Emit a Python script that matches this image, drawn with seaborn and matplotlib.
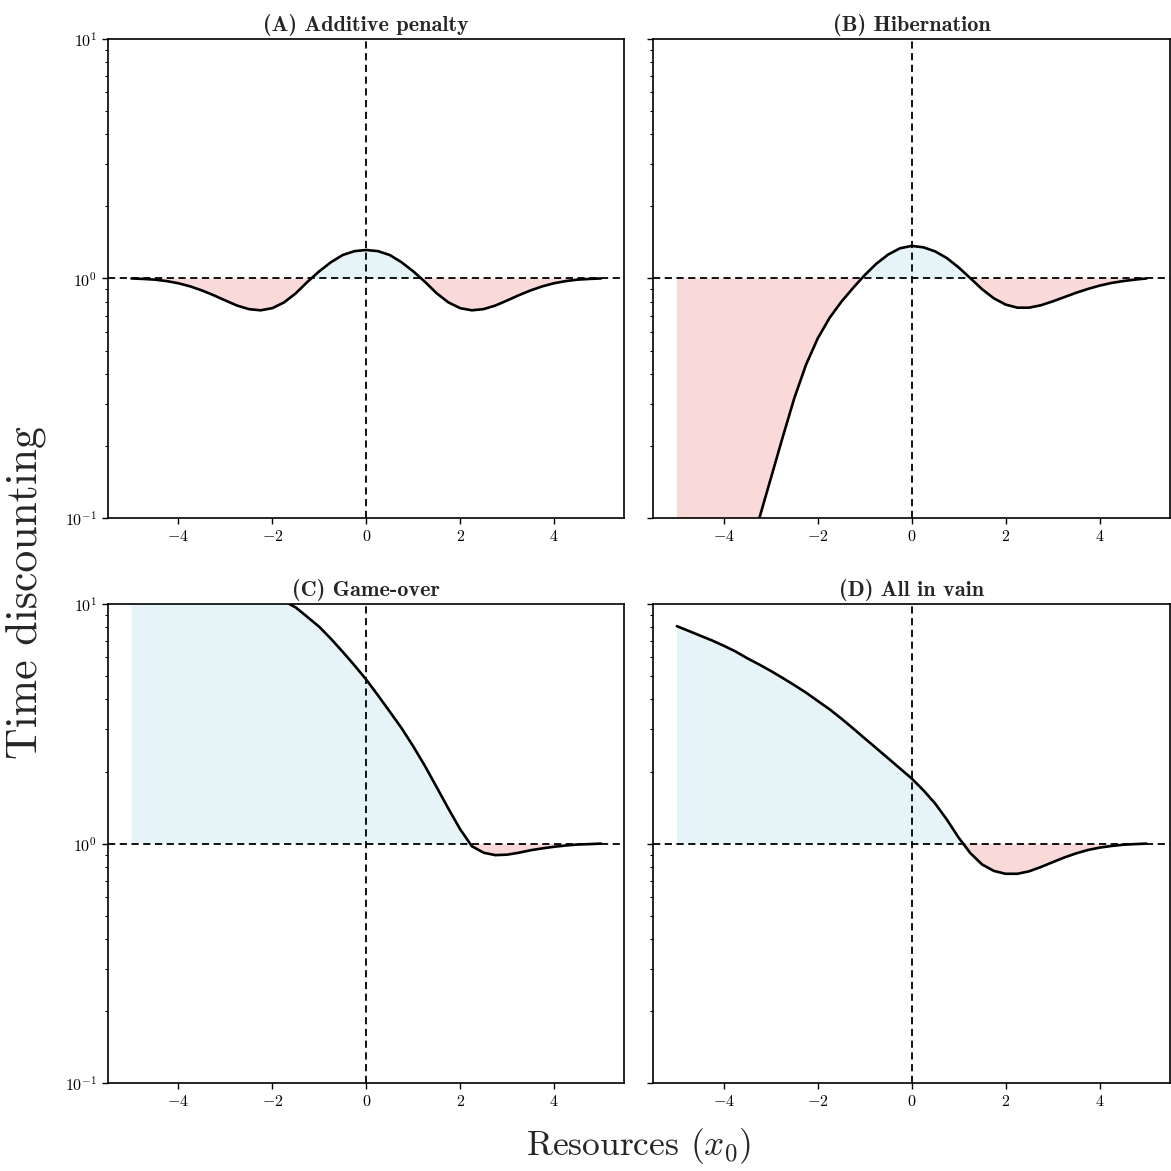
import numpy as np
import pandas as pd
import seaborn as sns
import matplotlib
matplotlib.use("Agg")
import matplotlib.pyplot as plt

# resources grid (x0) and time discounting
x0 = np.linspace(-5, 5, 41)

additive = [1.0, 0.9954, 0.9886, 0.9750, 0.9550, 0.9268, 0.8913, 0.8511, 0.8091, 0.7706,
            0.7447, 0.7362, 0.7516, 0.7943, 0.8670, 0.9683, 1.0715, 1.1695, 1.2531, 1.3002,
            1.3152,
            1.3002, 1.2531, 1.1695, 1.0715, 0.9683, 0.8670, 0.7943, 0.7516, 0.7362, 0.7447,
            0.7706, 0.8091, 0.8511, 0.8913, 0.9268, 0.9550, 0.9750, 0.9886, 0.9954, 1.0]

hibernation = [0.00355, 0.00603, 0.01023, 0.0170, 0.0275, 0.0437, 0.0661, 0.0989, 0.1462, 0.2163,
               0.3162, 0.4365, 0.5623, 0.6839, 0.7980, 0.9120, 1.0328, 1.1535, 1.2589, 1.3366,
               1.3677,
               1.3490, 1.2972, 1.2162, 1.1117, 1.0023, 0.9016, 0.8260, 0.7780, 0.7551, 0.7551,
               0.7727, 0.8017, 0.8356, 0.8710, 0.9036, 0.9333, 0.9572, 0.9750, 0.9886, 1.0]

game_over = [15.1, 15.0, 14.8, 14.6, 14.3, 14.1, 13.7, 13.4, 12.9, 12.5,
             12.0, 11.4, 10.9, 10.3, 9.68, 8.83, 8.04, 7.16, 6.32, 5.55,
             4.84,
             4.16, 3.56, 3.04, 2.55, 2.11, 1.72, 1.40, 1.148, 0.975, 0.916,
             0.895, 0.899, 0.916, 0.938, 0.955, 0.970, 0.982, 0.991, 0.995, 1.0]

all_in_vain = [8.09, 7.73, 7.38, 7.05, 6.70, 6.34, 5.94, 5.60, 5.26, 4.92,
               4.59, 4.27, 3.94, 3.64, 3.33, 3.03, 2.75, 2.50, 2.27, 2.06,
               1.87,
               1.67, 1.47, 1.259, 1.059, 0.912, 0.818, 0.769, 0.748, 0.748, 0.766,
               0.798, 0.836, 0.875, 0.910, 0.940, 0.962, 0.977, 0.989, 0.995, 1.0]

titles = ["(A) Additive penalty", "(B) Hibernation", "(C) Game-over", "(D) All in vain"]
series = [additive, hibernation, game_over, all_in_vain]

sns.set_theme(style="ticks")
plt.rcParams.update({
    "font.family": ["cmr10", "DejaVu Serif"],
    "mathtext.fontset": "cm",
    "axes.formatter.use_mathtext": True,
    "axes.linewidth": 1.2,
    "xtick.major.size": 4.5, "ytick.major.size": 4.5,
    "ytick.minor.size": 2.5,
    "xtick.major.width": 1.0, "ytick.major.width": 1.0, "ytick.minor.width": 0.8,
    "xtick.labelsize": 11.5, "ytick.labelsize": 11.5,
    "xtick.color": "black", "ytick.color": "black",
    "axes.edgecolor": "black",
})

red = "#fad9d9"
blue = "#e6f3f7"

fig, axes = plt.subplots(2, 2, figsize=(11.71, 11.71), dpi=100, sharey=True)
fig.subplots_adjust(left=0.0922, right=0.9991, top=0.9667, bottom=0.0751,
                    wspace=0.056, hspace=0.18)

for ax, title, vals in zip(axes.flat, titles, series):
    y = np.array(vals)
    df = pd.DataFrame({"x0": x0, "discount": y})
    ax.fill_between(x0, y, 1, where=y <= 1, interpolate=True, color=red, lw=0)
    ax.fill_between(x0, y, 1, where=y >= 1, interpolate=True, color=blue, lw=0)
    ax.axhline(1, color="black", ls="--", lw=1.3, dashes=(4, 2.5), zorder=3)
    ax.axvline(0, color="black", ls="--", lw=1.3, dashes=(4, 2.5), zorder=3)
    sns.lineplot(data=df, x="x0", y="discount", ax=ax, color="black", lw=1.9,
                 estimator=None, sort=False, zorder=4)
    ax.set_yscale("log")
    ax.set_ylim(0.1, 10)
    ax.set_xlim(-5.5, 5.5)
    ax.set_xticks([-4, -2, 0, 2, 4])
    ax.set_xlabel("")
    ax.set_ylabel("")
    ax.set_title(title, fontfamily="cmb10", fontsize=16, pad=6)
    ax.tick_params(axis="y", which="both", left=True, right=False)

fig.text(0.545, 0.021, r"Resources ($x_0$)", ha="center", va="center", fontsize=25.5)
fig.text(0.022, 0.494, "Time discounting", ha="center", va="center",
         rotation=90, fontsize=31.5)

fig.savefig("out.png", dpi=100)
